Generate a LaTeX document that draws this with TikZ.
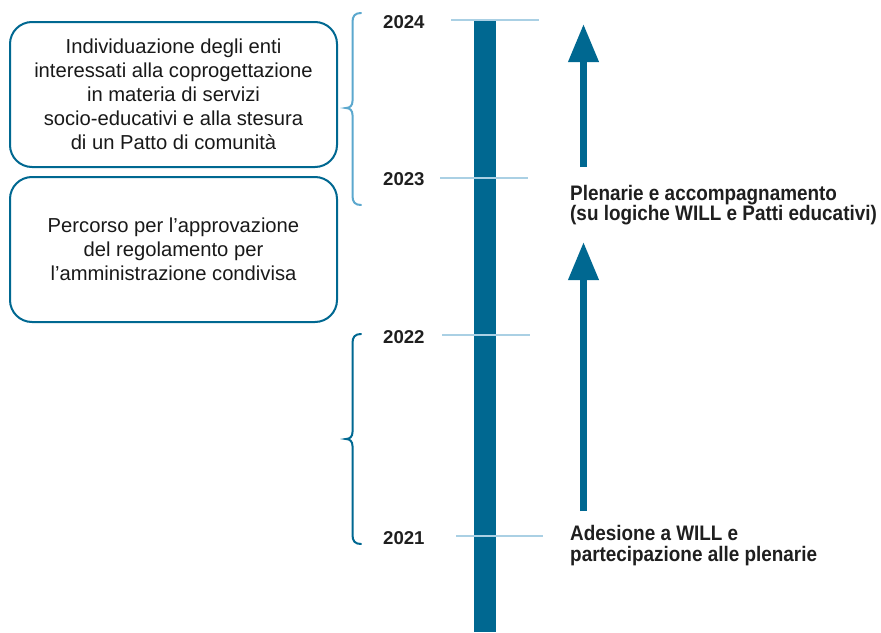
\documentclass[tikz,border=0pt]{standalone}
\usepackage{fontspec}
\setmainfont{Liberation Sans}
\newfontfamily\condfont[FakeStretch=0.9]{Liberation Sans}
\usetikzlibrary{arrows.meta}
\definecolor{dblue}{RGB}{0,104,145}
\definecolor{lblue}{RGB}{170,208,228}
\definecolor{mblue}{RGB}{92,168,206}
\tikzset{
  box/.style={draw=dblue, line width=2pt, rounded corners=22pt, minimum width=327pt,
    minimum height=145pt, align=center, inner sep=0pt, font=\fontsize{20.2}{24}\selectfont, text=black!90},
  year/.style={anchor=base west, inner sep=0pt, font=\fontsize{18.6}{22}\selectfont\bfseries, text=black!88},
  tick/.style={lblue, line width=2.5pt},
  bar/.style={dblue, line width=22pt},
  arr/.style={dblue, line width=7pt, -{Triangle[width=29pt,length=38pt]}},
  brace/.style={line width=2pt, line cap=round},
  rtext/.style={anchor=base west, align=left, inner sep=0pt, font=\condfont\fontsize{21}{20.5}\selectfont\bfseries, text=black!88}
}
\begin{document}
\begin{tikzpicture}[x=1pt,y=-1pt]
\useasboundingbox[fill=white] (0,0) rectangle (881,632);
% boxes
\node[box] (b1) at (173.5,94.5) {Individuazione degli enti\\interessati alla coprogettazione\\in materia di servizi\\socio-educativi e alla stesura\\di un Patto di comunità};
\node[box] (b2) at (173.5,249.5) {Percorso per l’approvazione\\del regolamento per\\l’amministrazione condivisa};
% bar
\coordinate (bartop) at (485,20);
\coordinate (barbot) at (485,632);
\draw[bar] (bartop) -- (barbot);
% ticks
\coordinate (t24a) at (451,20);  \coordinate (t24b) at (539,20);
\coordinate (t23a) at (440,178); \coordinate (t23b) at (528,178);
\coordinate (t22a) at (442,335); \coordinate (t22b) at (530,335);
\coordinate (t21a) at (456,536); \coordinate (t21b) at (543,536);
\draw[tick] (t24a) -- (t24b);
\draw[tick] (t23a) -- (t23b);
\draw[tick] (t22a) -- (t22b);
\draw[tick] (t21a) -- (t21b);
% years
\node[year] (y24) at (383,28.5) {2024};
\node[year] (y23) at (383,185) {2023};
\node[year] (y22) at (383,343) {2022};
\node[year] (y21) at (383,544) {2021};
% braces
\draw[brace, mblue] (361,13) .. controls (355,13) and (352.5,16) .. (352.5,22) -- (352.5,101)
  .. controls (352.5,105.5) and (350,108) .. (346,108)
  .. controls (350,108) and (352.5,110.5) .. (352.5,115) -- (352.5,196)
  .. controls (352.5,202) and (355,205) .. (361,205);
\draw[brace, dblue] (361,334) .. controls (355,334) and (352.5,337) .. (352.5,343) -- (352.5,432)
  .. controls (352.5,436.5) and (350,439) .. (346,439)
  .. controls (350,439) and (352.5,441.5) .. (352.5,446) -- (352.5,535)
  .. controls (352.5,541) and (355,544) .. (361,544);
% arrows
\coordinate (a1s) at (583.5,167); \coordinate (a1e) at (583.5,24);
\coordinate (a2s) at (583.5,511); \coordinate (a2e) at (583.5,242);
\draw[arr] (a1s) -- (a1e);
\draw[arr] (a2s) -- (a2e);
% right texts
\node[rtext] (p1) at (570,220.5) {Plenarie e accompagnamento\\(su logiche WILL e Patti educativi)};
\node[rtext] (p2) at (570,561) {Adesione a WILL e\\partecipazione alle plenarie};
\end{tikzpicture}
\end{document}
